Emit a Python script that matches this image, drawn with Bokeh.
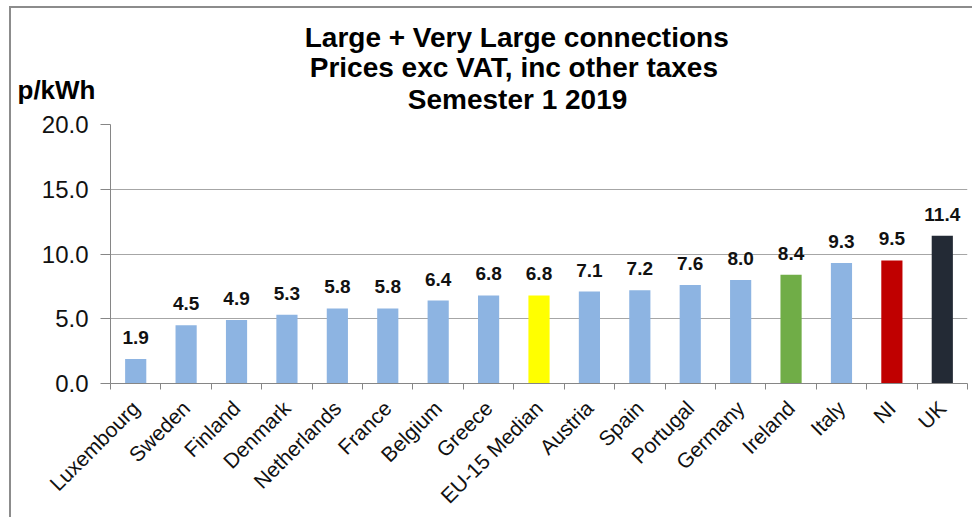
import math
from bokeh.plotting import figure
from bokeh.models import (Range1d, FixedTicker, ColumnDataSource, LabelSet, Title,
                          PrintfTickFormatter)
from bokeh.core.properties import value
from bokeh.embed import file_html
from bokeh.resources import INLINE

countries = ["Luxembourg", "Sweden", "Finland", "Denmark", "Netherlands", "France",
             "Belgium", "Greece", "EU-15 Median", "Austria", "Spain", "Portugal",
             "Germany", "Ireland", "Italy", "NI", "UK"]
prices = [1.9, 4.5, 4.9, 5.3, 5.8, 5.8, 6.4, 6.8, 6.8, 7.1, 7.2, 7.6, 8.0, 8.4, 9.3, 9.5, 11.4]
y_ticks = [0, 5, 10, 15, 20]
title_lines = ["Large + Very Large connections",
               "Prices exc VAT, inc other taxes",
               "Semester 1 2019"]
y_unit = "p/kWh"

BLUE = "#8DB4E2"
highlight = {"EU-15 Median": "#FFFF00", "Ireland": "#70AD47", "NI": "#C00000", "UK": "#232A35"}
colors = [highlight.get(c, BLUE) for c in countries]
labels = [f"{v:.1f}" for v in prices]

FONT = "Arial"
AXIS_GRAY = "#868686"

# ---- layout constants (page pixels) ----
CANVAS_TOP = 8
FRAME_TOP = 125
FRAME_LEFT = 110
TITLE_CX = 517
TITLE_PX, UNIT_PX = 28, 26
BASE_L1, BASE_L2, BASE_L3, BASE_UNIT = 47, 77.5, 109.5, 99.5
UNIT_X = 17

# approximate Arial Bold advance widths (per 1000 em) for centring the title rows
AW = {' ': 278, '+': 584, ',': 278, '-': 333, '/': 278}
AW.update({d: 556 for d in "0123456789"})
AW.update(dict(L=611, V=667, P=667, A=722, T=611, S=667, W=944))
AW.update(dict(a=556, c=556, e=556, g=611, h=611, i=278, k=556, m=889, n=611, o=611,
               p=611, r=389, s=556, t=333, x=556, y=556))


def text_w(s, px):
    return sum(AW.get(ch, 556) for ch in s) * px / 1000.0


def metrics(px):
    return 1.13 * px, 0.21 * px, 0.92 * px  # height, descent, ascent


def centre(base, px):
    h, d, a = metrics(px)
    return base + (d - a) / 2.0


n = len(countries)
centers = [i + 0.5 for i in range(n)]
bounds = list(range(n + 1))

src = ColumnDataSource(dict(x=centers, top=prices, color=colors, label=labels))

p = figure(width=963, height=511, x_range=Range1d(0, n),
           y_range=Range1d(y_ticks[0], y_ticks[-1]),
           output_backend="svg", toolbar_location=None,
           min_border_left=99, min_border_right=7, min_border_top=0,
           min_border_bottom=136)
p.outline_line_color = None
p.styles = {"margin-left": "9px", "margin-top": "6px",
            "border-left": "2px solid #8C8C8C", "border-top": "2px solid #8C8C8C"}

p.vbar(x="x", top="top", width=0.42, color="color", line_color=None, source=src)

# y axis
yax = p.yaxis[0]
yax.ticker = FixedTicker(ticks=y_ticks)
yax.formatter = PrintfTickFormatter(format="%.1f")
yax.major_label_text_font = FONT
yax.major_label_text_font_size = "24px"
yax.major_label_text_color = "#111111"
yax.axis_line_color = AXIS_GRAY
yax.major_tick_line_color = AXIS_GRAY
yax.major_tick_out = 10
yax.major_tick_in = 0
yax.minor_tick_line_color = None
yax.major_label_standoff = 12

p.ygrid.ticker = FixedTicker(ticks=y_ticks)
p.ygrid.grid_line_color = "#A6A6A6"
p.xgrid.grid_line_color = None

# x axis: labels at category centres, Excel-style ticks between categories
xax = p.xaxis[0]
xax.ticker = FixedTicker(ticks=centers, minor_ticks=bounds)
xax.major_label_overrides = {c: name for c, name in zip(centers, countries)}
xax.major_label_orientation = math.pi / 4
xax.major_tick_line_color = None
xax.minor_tick_line_color = AXIS_GRAY
xax.minor_tick_out = 6
xax.minor_tick_in = 0
xax.axis_line_color = AXIS_GRAY
xax.major_label_text_font = FONT
xax.major_label_text_font_size = "21px"
xax.major_label_text_color = "#111111"
xax.major_label_standoff = 15

p.add_layout(LabelSet(x="x", y="top", text="label", source=src,
                      text_align="center", text_baseline="alphabetic", y_offset=15,
                      text_font=value(FONT), text_font_size=value("19px"),
                      text_font_style="bold", text_color="#111111"))

# ---- title block: stacked Title rows (top -> bottom), overlapping where needed ----
rows = [  # (text, px, baseline, x_left)
    (title_lines[0], TITLE_PX, BASE_L1, TITLE_CX - text_w(title_lines[0], TITLE_PX) / 2),
    (title_lines[1], TITLE_PX, BASE_L2, TITLE_CX - text_w(title_lines[1], TITLE_PX) / 2),
    (y_unit, UNIT_PX, BASE_UNIT, UNIT_X),
    (title_lines[2], TITLE_PX, BASE_L3, TITLE_CX - text_w(title_lines[2], TITLE_PX) / 2),
]
row_c = [centre(b, px) - 1 for (_, px, b, _) in rows]
heights = [0.0] * len(rows)
heights[2] = 8.0
heights[3] = 2 * (row_c[3] - row_c[2]) - heights[2]
heights[1] = 2 * (row_c[2] - row_c[1]) - heights[2]
heights[0] = 2 * (row_c[1] - row_c[0]) - heights[1]
top_gap = (row_c[0] - heights[0] / 2) - CANVAS_TOP
bottom_gap = FRAME_TOP - (row_c[3] + heights[3] / 2)

SP_PX = 1
title_models = [Title(text=" ", text_font_size=f"{SP_PX}px",
                      standoff=top_gap - 2 - metrics(SP_PX)[0])]
for (txt, px, b, xl), h in zip(rows, heights):
    title_models.append(Title(text=txt, align="left", offset=xl - FRAME_LEFT,
                              text_font=FONT, text_font_size=f"{px}px",
                              text_font_style="bold", text_color="#000000",
                              vertical_align="bottom",
                              standoff=h - 2 - metrics(px)[0]))
title_models.append(Title(text=" ", text_font_size=f"{SP_PX}px",
                          standoff=bottom_gap - 2 - metrics(SP_PX)[0]))

for t in reversed(title_models):   # first added sits nearest the frame
    p.add_layout(t, "above")

open("out.html", "w").write(file_html(p, INLINE))
